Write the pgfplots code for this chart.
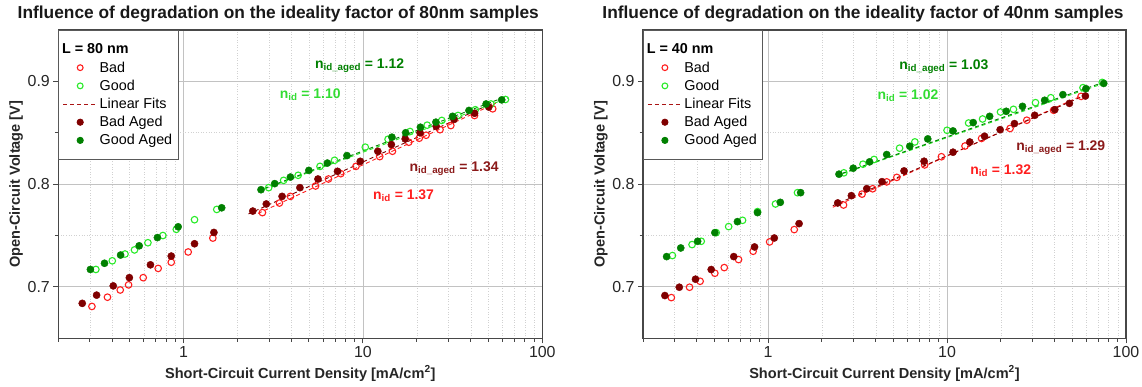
\documentclass[border=0pt]{standalone}
\usepackage{fontspec}
\setmainfont{Liberation Sans}
\usepackage{pgfplots}
\pgfplotsset{compat=1.18}
\definecolor{cbad}{RGB}{255,30,30}
\definecolor{cgood}{RGB}{40,235,40}
\definecolor{cbadA}{RGB}{128,0,0}
\definecolor{cgoodA}{RGB}{0,128,0}
\definecolor{cfit}{RGB}{170,20,20}
\definecolor{cgoodT}{RGB}{50,220,50}
\definecolor{cbadAT}{RGB}{139,26,26}
\begin{document}
\begin{tikzpicture}
\useasboundingbox (0,0) rectangle (1142bp,387bp);
\node[font=\bfseries\fontsize{17.4}{20}\selectfont, text=black!90] at (278.3bp,373bp) {Influence of degradation on the ideality factor of 80nm samples};
\node[font=\bfseries\fontsize{17.4}{20}\selectfont, text=black!90] at (863bp,373bp) {Influence of degradation on the ideality factor of 40nm samples};

% ---------------- 80 nm ----------------
\begin{axis}[at={(58.3bp,48.7bp)}, anchor=south west, width=484bp,
    scale only axis, height=308.3bp,
    xmode=log, xmin=0.2, xmax=100, ymin=0.65, ymax=0.95,
    xtick={1,10,100}, xticklabels={1,10,100},
    minor xtick={0.2,0.3,0.4,0.5,0.6,0.7,0.8,0.9,2,3,4,5,6,7,8,9,20,30,40,50,60,70,80,90},
    ytick={0.7,0.8,0.9}, yticklabels={0.7,0.8,0.9},
    minor ytick={0.75,0.85},
    grid=both,
    major grid style={black!24, line width=0.9bp},
    minor grid style={black!18, line width=0.6bp, dotted},
    axis line style={black!72, line width=1.4bp},
    tick pos=left, tick align=outside,
    major tick length=5bp, minor tick length=3.5bp,
    tick style={black!72, line width=1bp},
    ticklabel style={font=\fontsize{16}{18}\selectfont, text=black!85},
    xlabel={Short-Circuit Current Density [mA/cm\textsuperscript{2}]},
    ylabel={Open-Circuit Voltage [V]},
    label style={font=\bfseries\fontsize{14.6}{16}\selectfont, text=black!85},
    xlabel style={at={(axis description cs:0.5,-0.114)}, anchor=center},
    ylabel style={at={(axis description cs:-0.087,0.5)}, anchor=center},
    legend cell align=left,
    legend image code/.code={\draw[mark repeat=2,mark phase=2,#1] plot coordinates {(0bp,0bp) (17bp,0bp) (34bp,0bp)};},
    legend style={at={(0,1)}, anchor=north west, draw=black!65, line width=0.9bp, fill=white,
      font=\fontsize{14.4}{16}\selectfont, inner xsep=4bp, inner ysep=11.5bp, row sep=2.3bp},
]
\addlegendimage{empty legend}
\addlegendentry{\hspace{-37.5bp}\textbf{L = 80 nm}}
\addlegendimage{only marks, mark=o, mark size=2.9bp, color=cbad, mark options={line width=1.1bp}}\addlegendentry{Bad}
\addlegendimage{only marks, mark=o, mark size=2.9bp, color=cgood, mark options={line width=1.1bp}}\addlegendentry{Good}
\addlegendimage{no marks, line width=0.9bp, dash pattern=on 4bp off 3bp, color=cfit, draw=cfit}\addlegendentry{Linear Fits}
\addlegendimage{only marks, mark=*, mark size=3.1bp, color=cbadA}\addlegendentry{Bad Aged}
\addlegendimage{only marks, mark=*, mark size=3.1bp, color=cgoodA}\addlegendentry{Good Aged\hspace{4bp}}
% fits
\addplot[no marks, line width=0.9bp, dash pattern=on 4bp off 3bp, color=cgood, forget plot] coordinates {(2.6,0.793) (65,0.884)};
\addplot[no marks, line width=0.9bp, dash pattern=on 4bp off 3bp, color=cgoodA, forget plot] coordinates {(2.6,0.7935) (60,0.8839)};
\addplot[no marks, line width=0.9bp, dash pattern=on 4bp off 3bp, color=cbad, forget plot] coordinates {(2.6,0.7715) (55,0.8787)};
\addplot[no marks, line width=0.9bp, dash pattern=on 4bp off 3bp, color=cbadA, forget plot] coordinates {(2.3,0.771) (52,0.8784)};
% Bad
\addplot[only marks, mark=o, mark size=3.3bp, color=cbad, mark options={line width=1.1bp}, forget plot] table {
x y
0.308 0.681
0.376 0.690
0.443 0.697
0.493 0.702
0.595 0.709
0.721 0.718
0.853 0.724
1.06 0.734
1.455 0.7475
2.75 0.7723
3.42 0.7816
3.94 0.7881
5.44 0.7982
6.42 0.805
7.52 0.8102
9.14 0.8173
12.4 0.8268
14.6 0.832
18.0 0.8408
20.6 0.8447
22.5 0.8476
26.9 0.853
30.9 0.857
41.9 0.8668
52.9 0.8733
};
% Good
\addplot[only marks, mark=o, mark size=3.3bp, color=cgood, mark options={line width=1.1bp}, forget plot] table {
x y
0.324 0.717
0.400 0.7254
0.471 0.732
0.532 0.736
0.632 0.743
0.766 0.750
0.910 0.756
1.15 0.7654
1.53 0.7754
2.98 0.7966
3.61 0.8037
4.35 0.8086
5.76 0.8173
6.94 0.8232
10.3 0.836
13.8 0.8437
18.3 0.8512
22.8 0.8574
27.5 0.862
33.9 0.8668
42.3 0.8724
51.7 0.878
62.3 0.8824
};
% Bad Aged
\addplot[only marks, mark=*, mark size=3.6bp, color=cbadA, forget plot] table {
x y
0.272 0.684
0.327 0.692
0.405 0.701
0.498 0.709
0.653 0.7215
0.853 0.730
1.15 0.742
1.475 0.753
2.43 0.7738
2.89 0.7807
3.54 0.7881
4.45 0.7966
5.61 0.805
7.21 0.8125
9.66 0.8222
12.1 0.832
14.4 0.8385
17.2 0.844
20.8 0.850
25.6 0.8564
32.2 0.863
41.9 0.869
50.3 0.875
};
% Good Aged
\addplot[only marks, mark=*, mark size=3.6bp, color=cgoodA, forget plot] table {
x y
0.302 0.717
0.362 0.723
0.445 0.731
0.565 0.740
0.714 0.748
0.932 0.7585
1.63 0.777
2.70 0.7946
3.22 0.8005
3.94 0.8069
4.99 0.8134
6.33 0.8205
8.14 0.8278
14.5 0.8457
17.3 0.850
20.9 0.8554
25.5 0.8603
31.6 0.866
39.0 0.8717
48.6 0.878
59.4 0.882
};
\node[anchor=base west, text=cgoodA, font=\bfseries\fontsize{14}{16}\selectfont] at (axis cs:5.17,0.913) {n\textsubscript{id\_aged} = 1.12};
\node[anchor=base west, text=cgoodT, font=\bfseries\fontsize{14}{16}\selectfont] at (axis cs:3.29,0.8838) {n\textsubscript{id} = 1.10};
\node[anchor=base west, text=cbadAT, font=\bfseries\fontsize{14}{16}\selectfont] at (axis cs:17.4,0.8125) {n\textsubscript{id\_aged} = 1.34};
\node[anchor=base west, text=cbad, font=\bfseries\fontsize{14}{16}\selectfont] at (axis cs:10.9,0.7852) {n\textsubscript{id} = 1.37};
\end{axis}

% ---------------- 40 nm ----------------
\begin{axis}[at={(643bp,48.7bp)}, anchor=south west, width=483bp,
    scale only axis, height=308.3bp,
    xmode=log, xmin=0.2, xmax=100, ymin=0.65, ymax=0.95,
    xtick={1,10,100}, xticklabels={1,10,100},
    minor xtick={0.2,0.3,0.4,0.5,0.6,0.7,0.8,0.9,2,3,4,5,6,7,8,9,20,30,40,50,60,70,80,90},
    ytick={0.7,0.8,0.9}, yticklabels={0.7,0.8,0.9},
    minor ytick={0.75,0.85},
    grid=both,
    major grid style={black!24, line width=0.9bp},
    minor grid style={black!18, line width=0.6bp, dotted},
    axis line style={black!72, line width=1.4bp},
    tick pos=left, tick align=outside,
    major tick length=5bp, minor tick length=3.5bp,
    tick style={black!72, line width=1bp},
    ticklabel style={font=\fontsize{16}{18}\selectfont, text=black!85},
    xlabel={Short-Circuit Current Density [mA/cm\textsuperscript{2}]},
    ylabel={Open-Circuit Voltage [V]},
    label style={font=\bfseries\fontsize{14.6}{16}\selectfont, text=black!85},
    xlabel style={at={(axis description cs:0.5,-0.114)}, anchor=center},
    ylabel style={at={(axis description cs:-0.087,0.5)}, anchor=center},
    legend cell align=left,
    legend image code/.code={\draw[mark repeat=2,mark phase=2,#1] plot coordinates {(0bp,0bp) (17bp,0bp) (34bp,0bp)};},
    legend style={at={(0,1)}, anchor=north west, draw=black!65, line width=0.9bp, fill=white,
      font=\fontsize{14.4}{16}\selectfont, inner xsep=4bp, inner ysep=11.5bp, row sep=2.3bp},
]
\addlegendimage{empty legend}
\addlegendentry{\hspace{-37.5bp}\textbf{L = 40 nm}}
\addlegendimage{only marks, mark=o, mark size=2.9bp, color=cbad, mark options={line width=1.1bp}}\addlegendentry{Bad}
\addlegendimage{only marks, mark=o, mark size=2.9bp, color=cgood, mark options={line width=1.1bp}}\addlegendentry{Good}
\addlegendimage{no marks, line width=0.9bp, dash pattern=on 4bp off 3bp, color=cfit, draw=cfit}\addlegendentry{Linear Fits}
\addlegendimage{only marks, mark=*, mark size=3.1bp, color=cbadA}\addlegendentry{Bad Aged}
\addlegendimage{only marks, mark=*, mark size=3.1bp, color=cgoodA}\addlegendentry{Good Aged\hspace{2bp}}
\addplot[no marks, line width=0.9bp, dash pattern=on 4bp off 3bp, color=cgood, forget plot] coordinates {(2.4,0.808) (75,0.898)};
\addplot[no marks, line width=0.9bp, dash pattern=on 4bp off 3bp, color=cgoodA, forget plot] coordinates {(2.4,0.8085) (76,0.8995)};
\addplot[no marks, line width=0.9bp, dash pattern=on 4bp off 3bp, color=cbad, forget plot] coordinates {(2.3,0.7775) (60,0.888)};
\addplot[no marks, line width=0.9bp, dash pattern=on 4bp off 3bp, color=cbadA, forget plot] coordinates {(2.3,0.779) (60,0.887)};
% Bad
\addplot[only marks, mark=o, mark size=3.3bp, color=cbad, mark options={line width=1.1bp}, forget plot] table {
x y
0.288 0.6896
0.364 0.6997
0.417 0.7055
0.504 0.7133
0.569 0.7188
0.684 0.7266
0.825 0.7347
1.02 0.7438
1.40 0.7558
2.64 0.7797
3.35 0.7903
3.84 0.7955
4.60 0.8022
5.24 0.8066
7.5 0.8187
9.3 0.8267
12.6 0.8371
15.6 0.8445
22.5 0.8542
27.9 0.8622
39.4 0.8719
56.1 0.8854
};
% Good
\addplot[only marks, mark=o, mark size=3.3bp, color=cgood, mark options={line width=1.1bp}, forget plot] table {
x y
0.292 0.7305
0.376 0.7412
0.423 0.7444
0.513 0.7528
0.602 0.7587
0.720 0.7648
0.873 0.7733
1.10 0.7807
1.46 0.7917
2.65 0.811
3.39 0.8194
3.91 0.824
5.43 0.835
6.61 0.8411
10.0 0.8524
13.2 0.8595
15.8 0.8634
19.9 0.8702
23.5 0.8728
31.2 0.8793
38.0 0.8841
57.5 0.8939
73.7 0.899
};
% Bad Aged
\addplot[only marks, mark=*, mark size=3.6bp, color=cbadA, forget plot] table {
x y
0.265 0.6916
0.319 0.6997
0.393 0.7075
0.481 0.7169
0.643 0.7295
0.840 0.7389
1.083 0.7476
1.49 0.7616
2.45 0.7817
2.92 0.7888
3.56 0.7956
4.33 0.8024
5.75 0.8129
7.44 0.8223
10.8 0.8311
13.4 0.841
16.2 0.8466
19.8 0.853
23.8 0.8589
30.9 0.867
40.0 0.8725
48.3 0.8786
59.3 0.8858
};
% Good Aged
\addplot[only marks, mark=*, mark size=3.6bp, color=cgoodA, forget plot] table {
x y
0.271 0.7295
0.325 0.7379
0.404 0.7444
0.504 0.7528
0.674 0.7635
0.873 0.7723
1.17 0.7823
1.52 0.7917
2.49 0.8097
2.99 0.8155
3.69 0.8217
4.60 0.8288
6.19 0.8369
7.80 0.844
10.8 0.8518
14.0 0.8599
17.3 0.866
21.4 0.8709
26.4 0.8757
35.1 0.8816
44.4 0.8871
59.7 0.8929
75.1 0.898
};
\node[anchor=base west, text=cgoodA, font=\bfseries\fontsize{14}{16}\selectfont] at (axis cs:5.18,0.9114) {n\textsubscript{id\_aged} = 1.03};
\node[anchor=base west, text=cgoodT, font=\bfseries\fontsize{14}{16}\selectfont] at (axis cs:3.91,0.8822) {n\textsubscript{id} = 1.02};
\node[anchor=base west, text=cbadAT, font=\bfseries\fontsize{14}{16}\selectfont] at (axis cs:23.3,0.8329) {n\textsubscript{id\_aged} = 1.29};
\node[anchor=base west, text=cbad, font=\bfseries\fontsize{14}{16}\selectfont] at (axis cs:12.9,0.8095) {n\textsubscript{id} = 1.32};
\end{axis}
\end{tikzpicture}
\end{document}
